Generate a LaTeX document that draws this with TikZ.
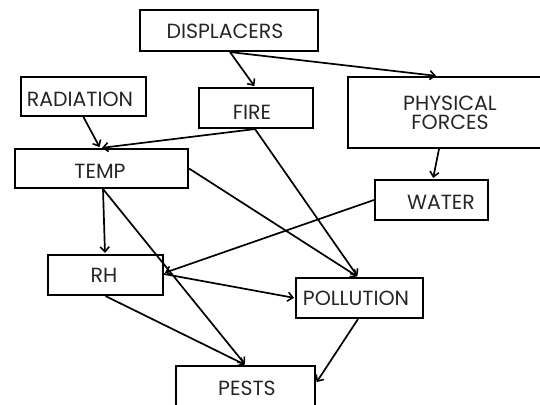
\documentclass[tikz,border=0pt]{standalone}
\usepackage{fontspec}
\setmainfont{Poppins}
\usetikzlibrary{arrows.meta}
\definecolor{txt}{HTML}{262626}
\tikzset{
  box/.style={draw=black, line width=2.1pt, rectangle, inner sep=0pt},
  lbl/.style={font=\fontsize{20.5}{19}\selectfont, text=txt, align=center},
  conn/.style={line width=1.7pt, -{Straight Barb[length=5pt,width=9pt,line width=1.6pt]}, shorten >=1pt}
}
\begin{document}
\begin{tikzpicture}[x=1pt,y=-1pt]
\useasboundingbox (0,0) rectangle (540,404);
\begin{scope}
\clip (0,0) rectangle (540,404);
\node[box, minimum width=178pt, minimum height=41pt,
  label={[lbl, xshift=-4pt, yshift=-1pt]center:DISPLACERS}] (disp) at (229,30.5) {};
\node[box, minimum width=125pt, minimum height=39pt,
  label={[lbl, xshift=-3.5pt, yshift=-3pt]center:RADIATION}] (rad) at (83.5,96.5) {};
\node[box, minimum width=114pt, minimum height=40pt,
  label={[lbl, xshift=-4pt, yshift=-4.5pt]center:FIRE}] (fire) at (256,108) {};
\node[box, minimum width=204pt, minimum height=71pt,
  label={[lbl]center:PHYSICAL\\FORCES}] (phys) at (450,112.5) {};
\node[box, minimum width=173pt, minimum height=39pt,
  label={[lbl, xshift=-1.5pt, yshift=-3pt]center:TEMP}] (temp) at (101.5,168.5) {};
\node[box, minimum width=113pt, minimum height=40pt,
  label={[lbl, xshift=9.5pt, yshift=-2pt]center:WATER}] (water) at (431.5,200) {};
\node[box, minimum width=115pt, minimum height=40pt,
  label={[lbl, xshift=-1.5pt]center:RH}] (rh) at (105.5,275) {};
\node[box, minimum width=127pt, minimum height=40pt,
  label={[lbl, xshift=-3.5pt]center:POLLUTION}] (poll) at (359.5,298) {};
\node[box, minimum width=139pt, minimum height=40pt,
  label={[lbl, xshift=1.5pt, yshift=-2.5pt]center:PESTS}] (pests) at (245.5,386) {};
\end{scope}

\draw[conn] ([xshift=1pt]disp.south) -- ([xshift=-1pt]fire.north);
\draw[conn] ([xshift=1pt]disp.south) -- ([xshift=-13pt]phys.north);
\draw[conn] (rad.south) -- ([xshift=-1.5pt]temp.north);
\draw[conn] ([xshift=-1pt]fire.south) -- ([xshift=-0.5pt]temp.north);
\draw[conn] ([xshift=-1pt]fire.south) -- ([xshift=-1.5pt]poll.north);
\draw[conn] (temp.east) -- ([xshift=-1.5pt]poll.north);
\draw[conn] ([xshift=1.5pt]temp.south) -- ([xshift=-0.5pt]rh.north);
\draw[conn] ([xshift=1.5pt]temp.south) -- (pests.north);
\draw[conn] ([xshift=-11pt]phys.south) -- ([xshift=1.5pt]water.north);
\draw[conn] (water.west) -- ([yshift=2pt]rh.east);
\draw[conn] ([yshift=1pt]rh.east) -- (poll.west);
\draw[conn] (rh.south) -- (pests.north);
\draw[conn] ([xshift=-1.5pt]poll.south) -- ([yshift=3pt]pests.east);
\end{tikzpicture}
\end{document}
